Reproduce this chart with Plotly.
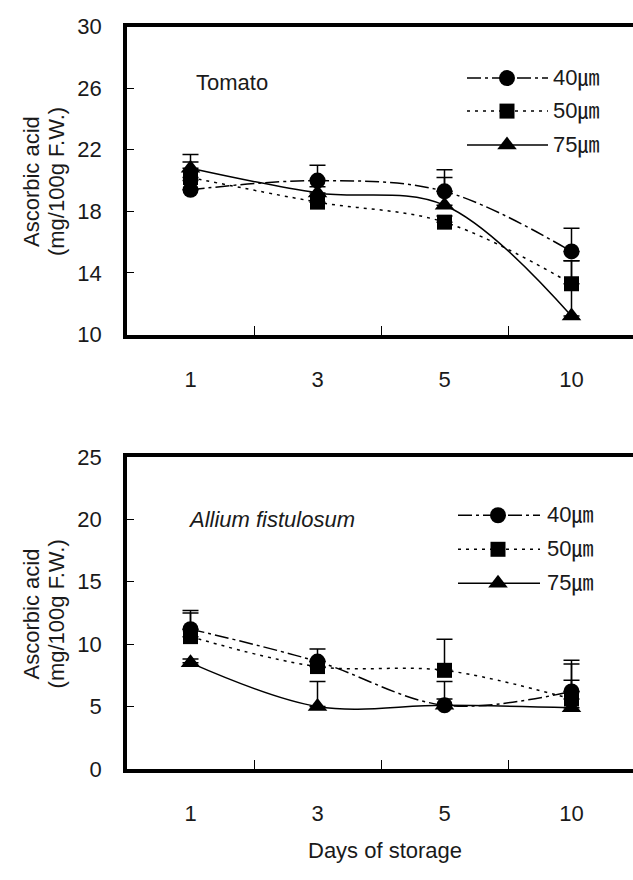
import plotly.graph_objects as go

# ---------------- data ----------------
days = ["1", "3", "5", "10"]
series_names = ["40㎛", "50㎛", "75㎛"]

tomato_40 = [19.4, 20.0, 19.3, 15.4]
tomato_50 = [20.2, 18.6, 17.3, 13.3]
tomato_75 = [20.8, 19.2, 18.4, 11.2]
tomato_40_err = [0.6, 1.0, 1.4, 1.5]
tomato_50_err = [1.0, 0.4, 0.4, 1.5]
tomato_75_err = [0.9, 0.4, 1.8, 3.6]

allium_40 = [11.2, 8.6, 5.1, 6.2]
allium_50 = [10.6, 8.2, 7.9, 5.6]
allium_75 = [8.5, 5.0, 5.1, 4.9]
allium_40_err = [1.5, 1.0, 1.9, 2.5]
allium_50_err = [1.9, 0.4, 2.5, 2.8]
allium_75_err = [0.3, 2.0, 0.5, 2.2]

tomato_ticks = [10, 14, 18, 22, 26, 30]
allium_ticks = [0, 5, 10, 15, 20, 25]

# ---------------- style ----------------
W, H = 633, 880
FONT = "Liberation Sans, Arial, Noto Sans CJK KR, sans-serif"
TXT = "#1a1a1a"
FS = 22
dashes = ["14px,4px,3px,4px", "3px,5px", "solid"]
symbols = ["circle", "square", "triangle-up"]
msizes = [16, 15, 17]

fig = go.Figure()

def add_panel(vals, errs, xa, ya):
    for i in range(3):
        fig.add_trace(go.Scatter(
            x=days, y=vals[i], xaxis=xa, yaxis=ya,
            mode="lines+markers", name=series_names[i], showlegend=False,
            line=dict(color="black", width=1.5, dash=dashes[i], shape="spline", smoothing=1.0),
            marker=dict(symbol=symbols[i], size=msizes[i], color="black"),
            error_y=dict(type="data", symmetric=False, array=errs[i],
                         arrayminus=[0] * len(errs[i]), color="black",
                         thickness=1.5, width=8),
            cliponaxis=False,
        ))

add_panel([tomato_40, tomato_50, tomato_75],
          [tomato_40_err, tomato_50_err, tomato_75_err], "x", "y")
add_panel([allium_40, allium_50, allium_75],
          [allium_40_err, allium_50_err, allium_75_err], "x2", "y2")

# custom legends (long line samples) on a pixel overlay axis
def add_legend(x0, x1, xm, xt, rows):
    for i in range(3):
        fig.add_trace(go.Scatter(
            x=[x0, x1], y=[rows[i], rows[i]], xaxis="x3", yaxis="y3",
            mode="lines", showlegend=False, hoverinfo="skip",
            line=dict(color="black", width=1.5, dash=dashes[i])))
        fig.add_trace(go.Scatter(
            x=[xm], y=[rows[i]], xaxis="x3", yaxis="y3",
            mode="markers", showlegend=False, hoverinfo="skip",
            marker=dict(symbol=symbols[i], size=msizes[i], color="black")))
        fig.add_annotation(x=xt, y=rows[i], xref="x3", yref="y3", text=series_names[i],
                           showarrow=False, xanchor="left", yanchor="middle",
                           font=dict(family=FONT, size=FS, color=TXT))

add_legend(467, 548, 507, 551, [68, 102, 137])
add_legend(458, 540, 498, 545, [518, 553, 588])

# ---------------- axes ----------------
left = 127 / W
xr = [-0.5, -0.5 + (W - 127) / 127]

def xaxis(standoff):
    return dict(domain=[left, 1], type="category", categoryorder="array",
                categoryarray=days, range=xr, showline=True, linewidth=3.5,
                linecolor="black", mirror=True, ticks="inside", tickson="boundaries",
                ticklen=9, tickwidth=1, tickcolor="black", showgrid=False,
                zeroline=False, ticklabelstandoff=standoff,
                tickfont=dict(family=FONT, size=FS, color=TXT), fixedrange=True)

def yaxis(dom, rng, ticks, anchor):
    return dict(domain=dom, range=rng, tickvals=ticks, showline=True, linewidth=3.5,
                linecolor="black", mirror=False, ticks="inside", ticklen=7,
                tickwidth=1, tickcolor="black", showgrid=False, zeroline=False,
                ticklabelstandoff=17, anchor=anchor,
                tickfont=dict(family=FONT, size=FS, color=TXT), fixedrange=True)

fig.update_layout(
    width=W, height=H, margin=dict(l=0, r=0, t=0, b=0),
    paper_bgcolor="white", plot_bgcolor="rgba(0,0,0,0)", showlegend=False,
    xaxis=dict(xaxis(22), anchor="y"),
    yaxis=yaxis([1 - 332 / H, 1 - 15 / H], [10, 30], tomato_ticks, "x"),
    xaxis2=dict(xaxis(22), anchor="y2"),
    yaxis2=yaxis([1 - 779 / H, 1 - 458 / H], [0, 25], allium_ticks, "x2"),
    xaxis3=dict(domain=[0, 1], range=[0, W], visible=False, anchor="y3", fixedrange=True),
    yaxis3=dict(domain=[0, 1], range=[H, 0], visible=False, anchor="x3", fixedrange=True),
)

# ---------------- texts ----------------
def ann(x, y, text, angle=0, italic=False, xanchor="center"):
    fig.add_annotation(x=x, y=y, xref="x3", yref="y3", text=text, showarrow=False,
                       textangle=angle, xanchor=xanchor, yanchor="middle",
                       font=dict(family=FONT, size=FS, color=TXT,
                                 style="italic" if italic else "normal"))

ann(194, 73, "Tomato", xanchor="left")
ann(186, 522, "Allium fistulosum", italic=True, xanchor="left")
for yc in (175, 620):
    ann(31, yc, "Ascorbic acid", angle=-90)
    ann(56, yc, "(mg/100g F.W.)", angle=-90)
ann(385, 863, "Days of storage")

fig.write_html("out.html")
